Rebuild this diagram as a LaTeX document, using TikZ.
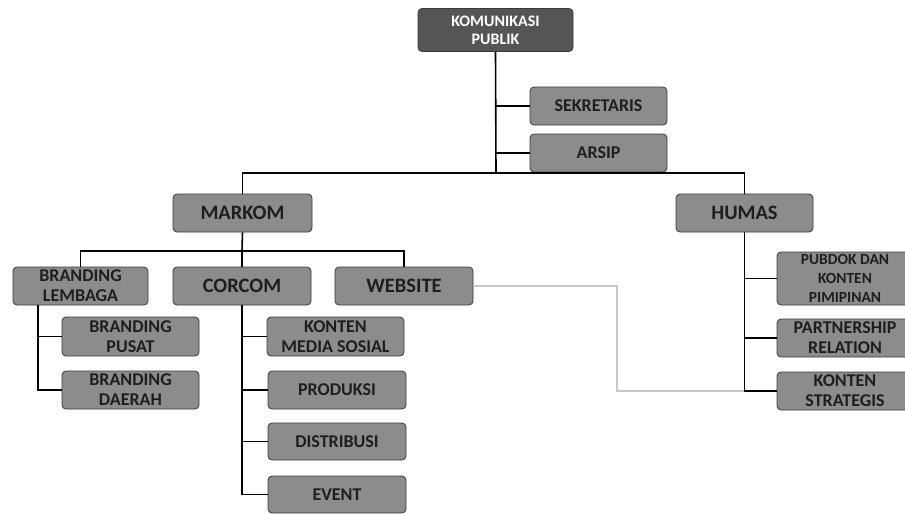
\documentclass[tikz,border=0pt]{standalone}
\usepackage{fontspec}
\setmainfont{Carlito}
\usepackage{tikz}
\definecolor{isi}{HTML}{8C8C8C}
\definecolor{isit}{HTML}{555555}
\definecolor{garis}{HTML}{3A3A3A}
\definecolor{teks}{HTML}{1E1E1E}
\definecolor{abu}{HTML}{C8C8C8}
\newcommand{\fs}[2]{\fontsize{#1}{#2}\selectfont}
\tikzset{
  kotak/.style={rectangle,rounded corners=4pt,draw=garis,line width=0.8pt,fill=isi,
    text=teks,font=\bfseries\fs{18}{20},align=center,inner sep=0pt,
    minimum width=137pt,minimum height=38pt},
  kotakb/.style={kotak,font=\bfseries\fs{20.5}{22}},
  kotakt/.style={kotak,fill=isit,text=white,font=\bfseries\fs{16}{18},
    minimum width=155pt,minimum height=43pt},
  hub/.style={black,line width=1.6pt},
  hubg/.style={abu,line width=2pt},
}

\begin{document}
\begin{tikzpicture}[x=1pt,y=-1pt]
  \useasboundingbox (0,0) rectangle (905,514);
  \clip (0,0) rectangle (905,514);
  \fill[white] (0,0) rectangle (905,514);
  % puncak
  \node[kotakt] (kp) at (495.5,30) {KOMUNIKASI\\PUBLIK};
  \node[kotak] (sek) at (598.5,106) {SEKRETARIS};
  \node[kotak] (arsip) at (598.5,153) {ARSIP};
  \coordinate (j0) at (496,173);
  % bidang
  \node[kotakb,minimum width=139pt] (markom) at (242.5,213) {MARKOM};
  \node[kotakb] (humas) at (744.5,213) {HUMAS};
  \coordinate (j1) at (242,251);
  \node[kotak,minimum width=135pt] (brlem) at (80.5,286) {BRANDING\\LEMBAGA};
  \node[kotakb,minimum width=138pt] (corcom) at (242,286) {CORCOM};
  \node[kotakb,minimum width=138pt] (website) at (404,286) {WEBSITE};
  \node[kotak,minimum height=39pt] (brpus) at (130.5,336.5) {BRANDING\\PUSAT};
  \node[kotak] (brdae) at (130.5,390) {BRANDING\\DAERAH};
  \node[kotak,minimum height=39pt] (konmed) at (335.5,336.5) {KONTEN\\MEDIA SOSIAL};
  \node[kotak,minimum width=138pt] (produksi) at (337,390) {PRODUKSI};
  \node[kotak,minimum width=138pt,minimum height=37pt] (distribusi) at (337,441.5) {DISTRIBUSI};
  \node[kotak,minimum width=138pt,minimum height=37pt] (event) at (337,494.5) {EVENT};
  \node[kotak,minimum width=136pt,minimum height=53pt,font=\bfseries\fs{15.5}{19}] (pubdok) at (845,278.5) {PUBDOK DAN\\KONTEN\\PIMIPINAN};
  \node[kotak,minimum width=136pt] (partner) at (845,338) {PARTNERSHIP\\RELATION};
  \node[kotak,minimum width=136pt] (konstr) at (845,391) {KONTEN\\STRATEGIS};
  \coordinate (b0) at (38,305);
  \coordinate (g0) at (617,286);
  % garis hubung
  \draw[hubg] (website.east) -- (g0) |- (humas.south |- konstr.west);
  \draw[hub] (kp.south) -- (j0);
  \draw[hub] (kp.south |- sek.west) -- (sek.west);
  \draw[hub] (kp.south |- arsip.west) -- (arsip.west);
  \draw[hub] (markom.north) -- (markom.north |- j0) -| (humas.north);
  \draw[hub] (markom.south) -- (j1);
  \draw[hub] (brlem.north) -- (brlem.north |- j1) -| (website.north);
  \draw[hub] (corcom.north) -- (j1);
  \draw[hub] (b0) |- (brdae.west);
  \draw[hub] (b0 |- brpus.west) -- (brpus.west);
  \draw[hub] (corcom.south) |- (event.west);
  \foreach \n in {konmed,produksi,distribusi}
    \draw[hub] (corcom.south |- \n.west) -- (\n.west);
  \draw[hub] (humas.south) |- (konstr.west);
  \foreach \n in {pubdok,partner}
    \draw[hub] (humas.south |- \n.west) -- (\n.west);
\end{tikzpicture}
\end{document}
